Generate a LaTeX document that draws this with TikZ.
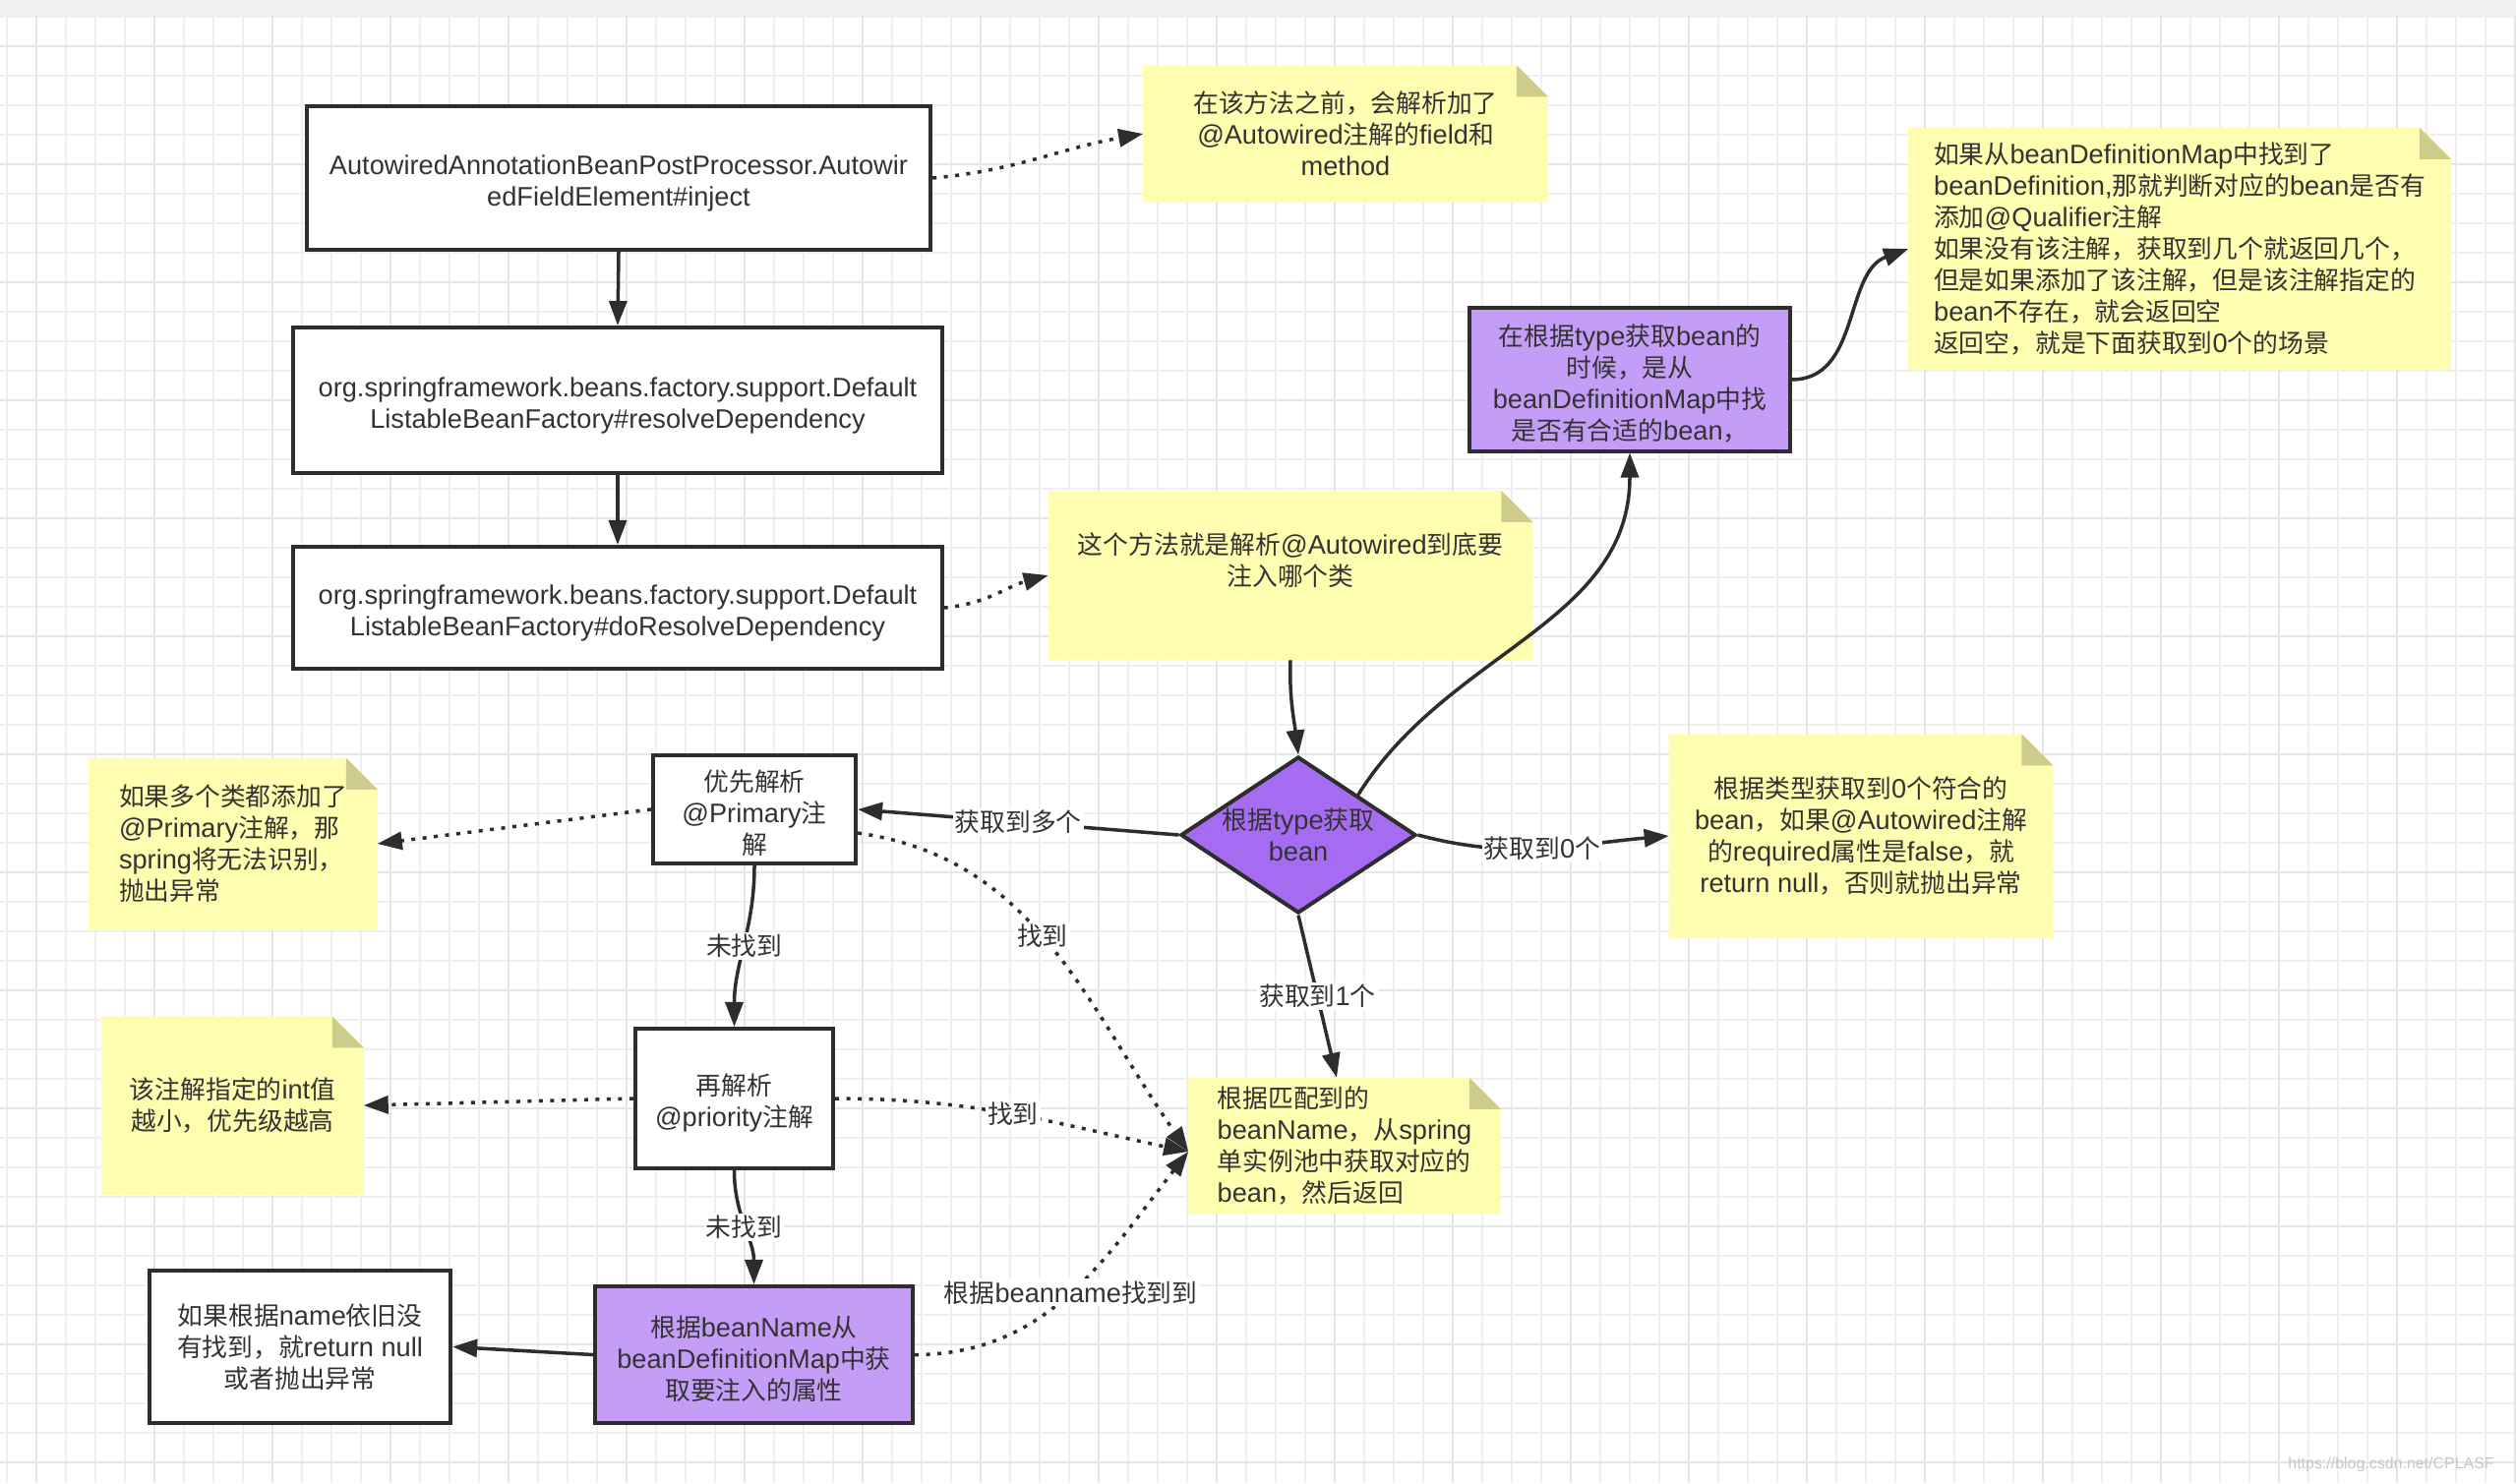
\documentclass[tikz,border=0pt]{standalone}
\usepackage{fontspec}
\setmainfont{Liberation Sans}[Scale=1.055]
\newfontfamily\cjkfont{Noto Sans CJK SC}
\usetikzlibrary{arrows.meta,shapes.geometric}
% automatic switching between Latin and CJK fonts
\XeTeXinterchartokenstate=1
\chardef\CJKcls=7
\newcount\cjkcnt
\def\setcjkrange#1#2{\cjkcnt=#1\relax
  \loop\XeTeXcharclass\cjkcnt=\CJKcls
  \ifnum\cjkcnt<#2\relax\advance\cjkcnt by 1\repeat}
\setcjkrange{"4E00}{"9FFF}
\setcjkrange{"3000}{"303F}
\setcjkrange{"FF00}{"FFEF}
\XeTeXinterchartoks 0 \CJKcls = {\cjkfont}
\XeTeXinterchartoks 4095 \CJKcls = {\cjkfont}
\XeTeXinterchartoks \CJKcls 0 = {\rmfamily}
\XeTeXinterchartoks \CJKcls 4095 = {\rmfamily}

\definecolor{notey}{RGB}{255,253,175}
\definecolor{foldc}{RGB}{206,204,138}
\definecolor{purplel}{RGB}{196,157,247}
\definecolor{purpled}{RGB}{165,108,242}
\definecolor{linec}{RGB}{45,45,45}
\definecolor{textc}{RGB}{51,51,51}
\definecolor{gridmin}{RGB}{240,240,240}
\definecolor{gridmaj}{RGB}{229,229,229}
\definecolor{bandc}{RGB}{240,240,240}

\pgfdeclarelayer{gridl}
\pgfdeclarelayer{bgl}
\pgfsetlayers{gridl,bgl,main}

\newcommand\notebg[1]{%
 \fill[notey] (#1.south west) -- (#1.north west) -- ([xshift=-0.32cm]#1.north east) -- ([yshift=-0.32cm]#1.north east) -- (#1.south east) -- cycle;
 \fill[foldc] ([xshift=-0.32cm]#1.north east) -- ([xshift=-0.32cm,yshift=-0.32cm]#1.north east) -- ([yshift=-0.32cm]#1.north east) -- cycle;}
\newcommand\topstrutx{\rule{0pt}{0.30cm}}

\tikzset{
  box/.style={draw=linec, line width=0.04cm, fill=white, align=center, inner sep=0pt, text=textc},
  pbox/.style={box, fill=purplel},
  dia/.style={diamond, draw=linec, line width=0.04cm, fill=purpled, aspect=1.5, inner sep=-0.03cm,
     minimum width=2.39cm, minimum height=1.59cm, align=center, text=textc},
  note/.style={inner sep=0pt, align=center, text=textc},
  notel/.style={inner sep=0pt, align=left, text=textc},
  arr/.style={draw=linec, line width=0.035cm, -{Triangle[length=0.25cm,width=0.18cm]}},
  dotarr/.style={arr, dash pattern=on 0.04cm off 0.075cm},
  lbl/.style={fill=white, inner sep=0.02cm, text=textc},
  gmin/.style={draw=gridmin, line width=0.02cm},
  gmaj/.style={draw=gridmaj, line width=0.02cm}
}

\begin{document}
\begin{tikzpicture}[x=0.01cm, y=0.01cm, font=\fontsize{7.33}{9.1}\selectfont]
\useasboundingbox (0,0) rectangle (2558,-1508);
\begin{pgfonlayer}{gridl}
  \fill[white] (0,0) rectangle (2558,-1508);
  \foreach \i in {0,...,85} \draw[gmin] (7+30*\i,-16) -- (7+30*\i,-1508);
  \foreach \j in {0,...,49} \draw[gmin] (0,-17-30*\j) -- (2558,-17-30*\j);
  \foreach \i in {0,...,21} \draw[gmaj] (37+120*\i,-16) -- (37+120*\i,-1508);
  \foreach \j in {0,...,12} \draw[gmaj] (0,-47-120*\j) -- (2558,-47-120*\j);
  \fill[bandc] (0,0) rectangle (2558,-16);
\end{pgfonlayer}

% main chain
\node[box, minimum width=6.34cm, minimum height=1.46cm] (a) at (629,-181)
  {\topstrutx AutowiredAnnotationBeanPostProcessor.Autowir\\edFieldElement\#inject};
\node[box, minimum width=6.59cm, minimum height=1.48cm] (b) at (628,-407)
  {\topstrutx org.springframework.beans.factory.support.Default\\ListableBeanFactory\#resolveDependency};
\node[box, minimum width=6.59cm, minimum height=1.24cm] (c) at (628,-618)
  {\topstrutx org.springframework.beans.factory.support.Default\\ListableBeanFactory\#doResolveDependency};

% notes
\node[note, minimum width=4.10cm, minimum height=1.38cm] (n1) at (1368,-136)
  {在该方法之前，会解析加了\\@Autowired注解的field和\\method};
\node[notel, minimum width=5.50cm, minimum height=2.45cm] (n2) at (2216,-253)
  {如果从beanDefinitionMap中找到了\\beanDefinition,那就判断对应的bean是否有\\添加@Qualifier注解\\如果没有该注解，获取到几个就返回几个，\\但是如果添加了该注解，但是该注解指定的\\bean不存在，就会返回空\\返回空，就是下面获取到0个的场景};
\node[note, minimum width=4.91cm, minimum height=1.71cm] (n3) at (1312,-585)
  {这个方法就是解析@Autowired到底要\\注入哪个类\\\mbox{}};
\node[notel, minimum width=2.92cm, minimum height=1.73cm] (n4) at (237,-858)
  {如果多个类都添加了\\@Primary注解，那\\spring将无法识别，\\抛出异常};
\node[note, minimum width=3.89cm, minimum height=2.06cm] (n5) at (1892,-850)
  {根据类型获取到0个符合的\\bean，如果@Autowired注解\\的required属性是false，就\\return null，否则就抛出异常};
\node[note, minimum width=2.65cm, minimum height=1.80cm] (n6) at (236.5,-1124)
  {该注解指定的int值\\越小，优先级越高};
\node[notel, minimum width=3.16cm, minimum height=1.37cm] (n7) at (1367,-1165)
  {根据匹配到的\\beanName，从spring\\单实例池中获取对应的\\bean，然后返回};

% decision and boxes
\node[pbox, minimum width=3.25cm, minimum height=1.45cm] (p1) at (1657,-386)
  {\topstrutx 在根据type获取bean的\\时候，是从\\beanDefinitionMap中找\\是否有合适的bean，};
\node[dia] (d) at (1320,-849) {根据type获取\\bean};
\node[box, minimum width=2.06cm, minimum height=1.10cm] (e) at (767,-823)
  {\topstrutx 优先解析\\@Primary注\\解};
\node[box, minimum width=2.01cm, minimum height=1.42cm] (f) at (746.5,-1117)
  {\topstrutx 再解析\\@priority注解};
\node[pbox, minimum width=3.23cm, minimum height=1.39cm] (g) at (766.5,-1377.5)
  {\topstrutx 根据beanName从\\beanDefinitionMap中获\\取要注入的属性};
\node[box, minimum width=3.06cm, minimum height=1.55cm] (h) at (305,-1369.5)
  {如果根据name依旧没\\有找到，就return null\\或者抛出异常};

\node[text=gray!45, font=\fontsize{4.3}{5}\selectfont] (wm) at (2431,-1489) {https://blog.csdn.net/CPLASF};

\begin{pgfonlayer}{bgl}
  \notebg{n1}\notebg{n2}\notebg{n3}\notebg{n4}\notebg{n5}\notebg{n6}\notebg{n7}
\end{pgfonlayer}

\coordinate (conv) at ([yshift=-0.06cm]n7.west);

% connectors
\draw[arr] (a.south) -- (b.north);
\draw[arr] (b.south) -- (c.north);
\draw[dotarr] (a.east) to[out=5,in=190] (n1.west);
\draw[dotarr] (c.east) to[out=5,in=195] (n3.west);
\draw[arr] (n3.south) to[out=-92,in=97] (d.north);
\draw[arr] (d.north east) to[out=58,in=-90] (p1.south);
\draw[arr] (p1.east) to[out=0,in=200] (n2.west);
\draw[arr] (d.west) -- node[lbl]{获取到多个} (e.east);
\draw[arr] (d.east) to[out=-15,in=185] node[lbl]{获取到0个} (n5.west);
\draw[arr] (d.south) -- node[lbl]{获取到1个} ([xshift=-0.08cm]n7.north);
\draw[dotarr] (e.west) -- (n4.east);
\draw[dotarr] ([yshift=-0.24cm]e.east) to[out=-8,in=125] node[lbl,pos=0.47]{找到} (conv);
\draw[arr] (e.south) to[out=-90,in=90] node[lbl]{未找到} (f.north);
\draw[dotarr] (f.west) -- (n6.east);
\draw[dotarr] (f.east) to[out=0,in=168] node[lbl]{找到} (conv);
\draw[arr] (f.south) to[out=-90,in=90] node[lbl]{未找到} (g.north);
\draw[arr] (g.west) -- (h.east);
\draw[dotarr] (g.east) to[out=0,in=232] node[lbl]{根据beanname找到到} (conv);
\end{tikzpicture}
\end{document}
